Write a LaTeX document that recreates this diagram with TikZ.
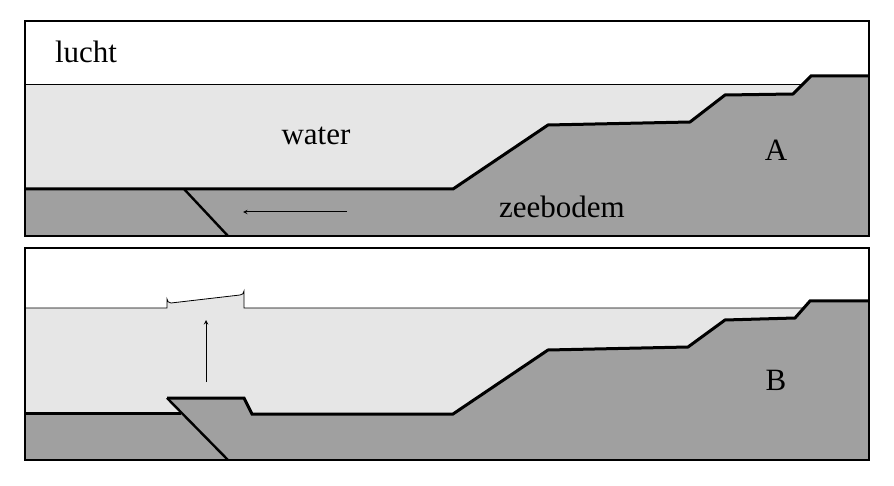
\documentclass[tikz,border=0pt]{standalone}
\usepackage{fontspec}
\setmainfont{Liberation Serif}
\usetikzlibrary{calc}
\definecolor{waterc}{HTML}{E6E6E6}
\definecolor{bodemc}{HTML}{A0A0A0}
\tikzset{
  bodem/.style={fill=bodemc, draw=black, line width=3pt, line join=miter},
  waterl/.style={fill=waterc, draw=black, line width=0.8pt},
  frame/.style={draw=black, line width=2.4pt},
  lbl/.style={font=\fontsize{31}{31}\selectfont, anchor=base, inner sep=0pt},
  pijl/.style={-stealth, line width=1pt}
}
\begin{document}
\begin{tikzpicture}[x=1pt, y=-1pt]
  \useasboundingbox (0,0) rectangle (894,486);
  % panel A
  \fill[waterc] (25,84) rectangle (869,236);
  \draw[line width=0.8pt] (25,84) -- (869,84);
  \fill[bodemc] (25,189) -- (453,189) -- (548,125) -- (690,122) -- (725,95)
    -- (793,94) -- (811,76) -- (869,76) -- (869,236) -- (25,236) -- cycle;
  \draw[line width=3pt] (25,189) -- (453,189) -- (548,125) -- (690,122)
    -- (725,95) -- (793,94) -- (811,76) -- (869,76);
  \coordinate (fa1) at (184,189);
  \coordinate (fa2) at (228,236);
  \draw[line width=2.4pt] (fa1) -- (fa2);
  \coordinate (pa1) at (347,212);
  \coordinate (pa2) at (243,212);
  \draw[pijl] (pa1) -- (pa2);
  \draw[frame] (25,21) rectangle (869,236);
  \node[lbl] (lucht) at (86,63) {lucht};
  \node[lbl] (water) at (316,145) {water};
  \node[lbl] (zeebodem) at (562,218) {zeebodem};
  \node[lbl] (A) at (776,161) {A};
  % panel B
  \fill[waterc] (25,308) -- (167,308) -- (167,299) arc (180:90:4) -- (240,295)
    arc (90:0:4) -- (244,308) -- (869,308) -- (869,460) -- (25,460) -- cycle;
  \draw[line width=0.8pt] (25,308) -- (167,308) -- (167,299) arc (180:90:4)
    -- (240,295) arc (90:0:4) -- (244,308) -- (869,308);
  \fill[bodemc] (25,413) -- (181,413) -- (167,398) -- (244,398) -- (252,414)
    -- (453,414) -- (548,350) -- (688,347) -- (725,320) -- (795,318)
    -- (810,301) -- (869,301) -- (869,460) -- (25,460) -- cycle;
  \draw[line width=3pt] (25,413) -- (181,413);
  \draw[line width=3pt] (167,398) -- (244,398) -- (252,414) -- (453,414)
    -- (548,350) -- (688,347) -- (725,320) -- (795,318) -- (810,301) -- (869,301);
  \coordinate (fb1) at (167,398);
  \coordinate (fb2) at (228,460);
  \draw[line width=2.4pt] (fb1) -- (fb2);
  \coordinate (pb1) at (206,382);
  \coordinate (pb2) at (206,320);
  \draw[pijl] (pb1) -- (pb2);
  \draw[frame] (25,248) rectangle (869,460);
  \node[lbl] (B) at (776,390) {B};
\end{tikzpicture}
\end{document}
